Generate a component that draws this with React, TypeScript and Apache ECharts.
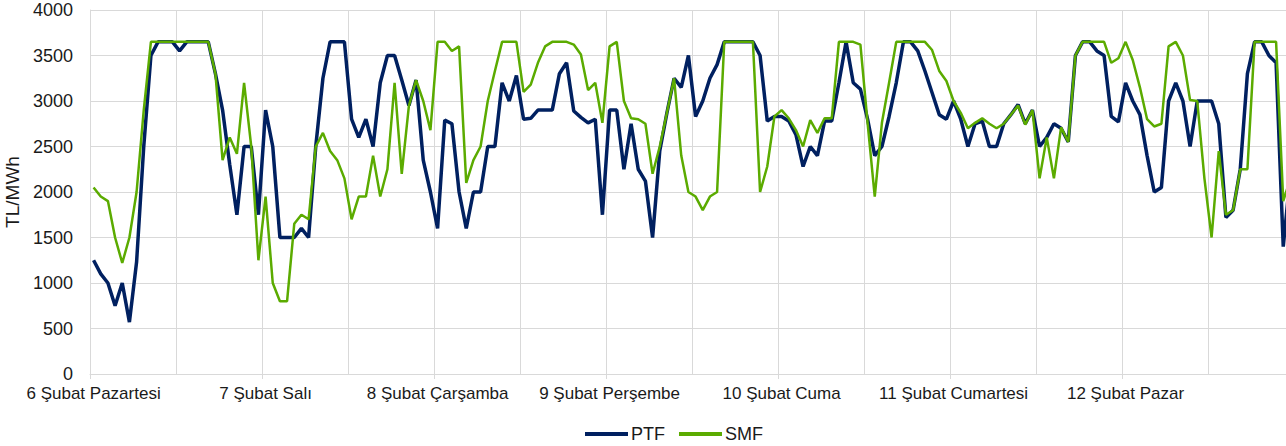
import React, { useEffect, useRef } from "react";
import * as echarts from "echarts";

const days = [
  "6 Şubat Pazartesi",
  "7 Şubat Salı",
  "8 Şubat Çarşamba",
  "9 Şubat Perşembe",
  "10 Şubat Cuma",
  "11 Şubat Cumartesi",
  "12 Şubat Pazar",
];
const hoursPerDay = 24;

const ptf = [
  1250, 1100, 1000, 750, 1000, 570, 1230, 2500, 3500, 3650, 3650, 3650, 3550, 3650, 3650, 3650, 3650, 3300, 2900, 2300, 1750, 2500, 2500, 1750,
  2900, 2500, 1500, 1500, 1500, 1600, 1500, 2500, 3250, 3650, 3650, 3650, 2800, 2600, 2800, 2500, 3200, 3500, 3500, 3230, 2950, 3230, 2350, 2000,
  1600, 2790, 2750, 2000, 1600, 2000, 2000, 2500, 2500, 3200, 3000, 3280, 2800, 2810, 2900, 2900, 2900, 3300, 3420, 2890, 2820, 2760, 2800, 1750,
  2900, 2900, 2250, 2750, 2250, 2120, 1500, 2450, 2870, 3250, 3150, 3500, 2830, 3000, 3250, 3400, 3650, 3650, 3650, 3650, 3650, 3500, 2780, 2830,
  2830, 2780, 2630, 2280, 2500, 2400, 2780, 2780, 3200, 3650, 3200, 3130, 2800, 2400, 2500, 2830, 3200, 3650, 3650, 3550, 3330, 3090, 2850, 2800,
  3000, 2800, 2500, 2750, 2780, 2500, 2500, 2750, 2850, 2960, 2750, 2900, 2500, 2600, 2750, 2700, 2550, 3500, 3650, 3650, 3550, 3500, 2830, 2770,
  3200, 3000, 2850, 2400, 2000, 2050, 3000, 3200, 3000, 2500, 3000, 3000, 3000, 2750, 1720, 1800, 2250, 3300, 3650, 3650, 3500, 3420, 1400, 2200,
];

const smf = [
  2050, 1950, 1900, 1500, 1220, 1500, 2000, 2900, 3650, 3650, 3650, 3650, 3650, 3650, 3650, 3650, 3650, 3300, 2350, 2600, 2420, 3200, 2500, 1250,
  1950, 1000, 800, 800, 1650, 1750, 1700, 2500, 2650, 2450, 2350, 2150, 1700, 1950, 1950, 2400, 1950, 2250, 3200, 2200, 2950, 3230, 3000, 2680,
  3650, 3650, 3550, 3600, 2100, 2350, 2500, 3000, 3330, 3650, 3650, 3650, 3100, 3180, 3420, 3600, 3650, 3650, 3650, 3620, 3510, 3120, 3200, 2760,
  3600, 3650, 3000, 2810, 2800, 2750, 2200, 2500, 2870, 3250, 2400, 2000, 1950, 1800, 1950, 2000, 3650, 3650, 3650, 3650, 3650, 2000, 2280, 2830,
  2900, 2810, 2680, 2500, 2790, 2650, 2810, 2810, 3650, 3650, 3650, 3620, 2760, 1950, 2760, 3200, 3650, 3650, 3650, 3650, 3650, 3560, 3330, 3220,
  3000, 2870, 2700, 2760, 2810, 2750, 2700, 2750, 2850, 2950, 2740, 2900, 2150, 2600, 2150, 2710, 2550, 3500, 3650, 3650, 3650, 3650, 3420, 3470,
  3650, 3450, 3150, 2800, 2720, 2750, 3600, 3650, 3500, 3010, 3000, 2150, 1500, 2450, 1750, 1800, 2250, 2250, 3650, 3650, 3650, 3650, 1900, 2150,
];

const yTicks = { min: 0, max: 4000, interval: 500 };

const categories = days.flatMap((d) =>
  Array.from({ length: hoursPerDay }, (_, h) => `${d} ${String(h).padStart(2, "0")}:00`)
);

const FONT = "'Liberation Sans', Arial, sans-serif";
const PTF_COLOR = "#002060";
const SMF_COLOR = "#5bab00";

export default function App() {
  const ref = useRef<HTMLDivElement>(null);

  useEffect(() => {
    if (!ref.current) return;
    const chart = echarts.init(ref.current, null, { renderer: "svg" });
    chart.setOption({
      animation: false,
      backgroundColor: "#ffffff",
      textStyle: { fontFamily: FONT },
      grid: {
        left: 90,
        top: 10,
        width: 1204,
        height: 364,
        containLabel: false,
        outerBoundsMode: "none",
      },
      legend: {
        left: 585,
        top: 425,
        padding: 0,
        icon: "rect",
        itemWidth: 43,
        itemHeight: 4,
        itemGap: 14,
        textStyle: { fontSize: 18, color: "#1a1a1a", fontFamily: FONT, padding: [0, 0, 0, -2] },
        data: ["PTF", "SMF"],
      },
      xAxis: {
        type: "category",
        data: categories,
        boundaryGap: true,
        axisLine: { show: true, lineStyle: { color: "#d9d9d9", width: 1 } },
        axisTick: { show: true, interval: hoursPerDay - 1, length: 5, lineStyle: { color: "#d9d9d9" } },
        axisLabel: {
          interval: hoursPerDay - 1,
          margin: 11,
          fontSize: 17,
          color: "#1a1a1a",
          fontFamily: FONT,
          formatter: (_v: string, idx: number) => days[Math.floor(idx / hoursPerDay)],
        },
        splitLine: { show: true, interval: hoursPerDay / 2 - 1, lineStyle: { color: "#d9d9d9", width: 1 } },
      },
      yAxis: {
        type: "value",
        min: yTicks.min,
        max: yTicks.max,
        interval: yTicks.interval,
        name: "TL/MWh",
        nameLocation: "middle",
        nameRotate: 90,
        nameGap: 65,
        nameTextStyle: { fontSize: 19, color: "#1a1a1a", fontFamily: FONT },
        axisLine: { show: true, lineStyle: { color: "#d9d9d9", width: 1 } },
        axisTick: { show: false },
        axisLabel: {
          margin: 17,
          fontSize: 18,
          color: "#1a1a1a",
          fontFamily: FONT,
          formatter: (v: number) => String(v),
        },
        splitLine: { show: true, lineStyle: { color: "#d9d9d9", width: 1 } },
      },
      series: [
        {
          name: "PTF",
          type: "line",
          data: ptf,
          symbol: "none",
          lineStyle: { color: PTF_COLOR, width: 3.5 },
          itemStyle: { color: PTF_COLOR },
        },
        {
          name: "SMF",
          type: "line",
          data: smf,
          symbol: "none",
          lineStyle: { color: SMF_COLOR, width: 2.5 },
          itemStyle: { color: SMF_COLOR },
        },
      ],
    });
    return () => chart.dispose();
  }, []);

  return (
    <div
      ref={ref}
      style={{ position: "absolute", left: 0, top: 0, width: 1286, height: 446 }}
    />
  );
}
